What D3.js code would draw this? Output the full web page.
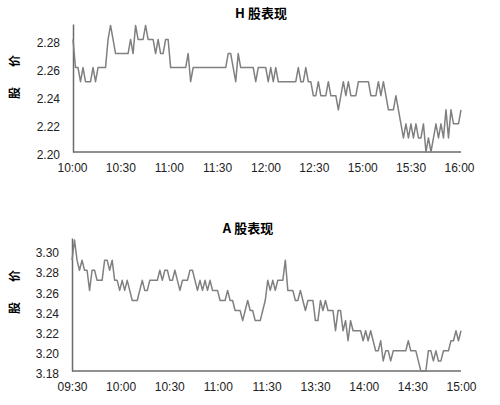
<!DOCTYPE html>
<html><head><meta charset="utf-8">
<script src="https://cdn.jsdelivr.net/npm/d3@7"></script>
<style>
body{margin:0;background:#fff;}
svg{display:block;}
</style></head>
<body>
<svg id="c" width="500" height="405"></svg>
<script>
// ---- data ----
const hTitle = "H 股表现";
const aTitle = "A 股表现";
const yLabelChars = ["股", "价"];
const hTimeLabels = ["10:00","10:30","11:00","11:30","12:00","12:30","15:00","15:30","16:00"];
const aTimeLabels = ["09:30","10:00","10:30","11:00","11:30","13:30","14:00","14:30","15:00"];
const hYTicks = [2.20, 2.22, 2.24, 2.26, 2.28];
const aYTicks = [3.18, 3.20, 3.22, 3.24, 3.26, 3.28, 3.30];
const hPrice = [
2.28,2.26,2.26,2.25,2.26,2.25,2.25,2.25,2.26,2.25,
2.26,2.26,2.26,2.26,2.28,2.29,2.28,2.27,2.27,2.27,
2.27,2.27,2.27,2.28,2.27,2.29,2.28,2.28,2.28,2.29,
2.28,2.28,2.28,2.27,2.28,2.27,2.27,2.28,2.28,2.26,
2.26,2.26,2.26,2.26,2.26,2.26,2.27,2.25,2.26,2.26,
2.26,2.26,2.26,2.26,2.26,2.26,2.26,2.26,2.26,2.26,
2.26,2.26,2.27,2.27,2.26,2.25,2.27,2.26,2.26,2.26,
2.26,2.26,2.26,2.25,2.26,2.26,2.26,2.26,2.25,2.26,
2.25,2.26,2.25,2.25,2.25,2.25,2.25,2.25,2.25,2.25,
2.26,2.25,2.25,2.26,2.25,2.25,2.24,2.24,2.25,2.24,
2.24,2.24,2.25,2.24,2.24,2.24,2.23,2.24,2.25,2.24,
2.25,2.24,2.24,2.24,2.25,2.25,2.25,2.25,2.25,2.24,
2.24,2.24,2.25,2.24,2.25,2.24,2.23,2.23,2.23,2.24,
2.23,2.22,2.21,2.22,2.21,2.22,2.21,2.22,2.21,2.21,
2.22,2.20,2.21,2.20,2.21,2.22,2.21,2.22,2.21,2.23,
2.21,2.23,2.22,2.22,2.22,2.23];
const aPrice = [
3.29,3.31,3.29,3.28,3.29,3.28,3.28,3.26,3.28,3.28,
3.27,3.27,3.27,3.29,3.29,3.28,3.29,3.27,3.27,3.26,
3.27,3.26,3.27,3.26,3.25,3.25,3.25,3.26,3.27,3.26,
3.26,3.27,3.27,3.27,3.27,3.28,3.27,3.28,3.28,3.27,
3.27,3.28,3.27,3.26,3.27,3.27,3.27,3.28,3.28,3.27,
3.26,3.27,3.26,3.27,3.26,3.27,3.26,3.26,3.26,3.25,
3.25,3.25,3.26,3.25,3.25,3.24,3.24,3.24,3.23,3.24,
3.25,3.24,3.24,3.23,3.23,3.23,3.24,3.25,3.27,3.26,
3.27,3.26,3.27,3.27,3.27,3.29,3.26,3.26,3.26,3.25,
3.25,3.26,3.25,3.24,3.25,3.25,3.25,3.23,3.23,3.25,
3.24,3.25,3.24,3.24,3.24,3.22,3.24,3.24,3.22,3.23,
3.21,3.23,3.22,3.22,3.22,3.22,3.21,3.22,3.21,3.22,
3.21,3.20,3.20,3.21,3.19,3.20,3.20,3.19,3.20,3.20,
3.20,3.20,3.20,3.20,3.21,3.20,3.20,3.20,3.19,3.18,
3.18,3.18,3.20,3.20,3.19,3.20,3.19,3.19,3.20,3.20,
3.20,3.21,3.21,3.22,3.21,3.22];

// ---- drawing ----
const svg = d3.select("#c");
const lineColor = "#808080";
const axisColor = "#6b6b6b";

function panel(cfg) {
  const g = svg.append("g");
  const x = d3.scaleLinear().domain([0, cfg.data.length - 1]).range([cfg.left, cfg.right]);
  const y = d3.scaleLinear().domain(cfg.yDomain).range([cfg.bottom, cfg.top]);
  const xl = d3.scalePoint().domain(cfg.timeLabels).range(cfg.labelRange);

  // y axis
  const ya = g.append("g").attr("transform", `translate(${cfg.left},0)`)
    .call(d3.axisLeft(y).tickValues(cfg.yTicks).tickSize(0).tickSizeOuter(0)
      .tickPadding(13).tickFormat(d3.format(".2f")));
  ya.select(".domain").attr("stroke", axisColor).attr("stroke-width", 1.5);
  ya.selectAll("text").attr("font-family", "'Liberation Sans', Arial, sans-serif")
    .attr("font-size", 12).attr("fill", "#222").attr("dy", "0.55em");

  // x axis labels
  const xa = g.append("g").attr("transform", `translate(0,${cfg.bottom})`)
    .call(d3.axisBottom(xl).tickSize(0).tickSizeOuter(0).tickPadding(11));
  xa.select(".domain").remove();
  xa.selectAll("text").attr("font-family", "'Liberation Sans', Arial, sans-serif")
    .attr("font-size", 12).attr("fill", "#222");
  // x baseline
  g.append("line").attr("x1", cfg.left).attr("x2", cfg.right)
    .attr("y1", cfg.bottom).attr("y2", cfg.bottom)
    .attr("stroke", axisColor).attr("stroke-width", 1.5);

  // series line
  g.append("path").datum(cfg.data)
    .attr("fill", "none").attr("stroke", lineColor).attr("stroke-width", 1.5)
    .attr("stroke-linejoin", "round")
    .attr("d", d3.line().x((d, i) => x(i)).y(d => y(d)));

  // title
  g.append("text").attr("x", cfg.titleX).attr("y", cfg.titleY)
    .attr("text-anchor", "middle")
    .attr("font-family", "'Noto Sans CJK SC', sans-serif")
    .attr("font-weight", "bold").attr("font-size", 13).attr("fill", "#000")
    .text(cfg.title);

  // y label (rotated characters)
  yLabelChars.forEach((ch, k) => {
    const cy = cfg.ylabelY + (k === 0 ? 16 : -16);
    g.append("text").attr("transform", `translate(15,${cy}) rotate(-90)`)
      .attr("text-anchor", "middle").attr("dy", "0.35em")
      .attr("font-family", "'Noto Sans CJK SC', sans-serif")
      .attr("font-weight", "bold").attr("font-size", 12).attr("fill", "#000")
      .text(ch);
  });
}

panel({
  data: hPrice, yDomain: [2.20, 2.291], yTicks: hYTicks, timeLabels: hTimeLabels,
  left: 73, right: 461, top: 24, bottom: 152, labelRange: [72, 459],
  title: hTitle, titleX: 261, titleY: 18, ylabelY: 77
});
panel({
  data: aPrice, yDomain: [3.18, 3.312], yTicks: aYTicks, timeLabels: aTimeLabels,
  left: 72, right: 461, top: 238, bottom: 371, labelRange: [72, 461],
  title: aTitle, titleX: 248, titleY: 233, ylabelY: 292
});
</script>
</body></html>
